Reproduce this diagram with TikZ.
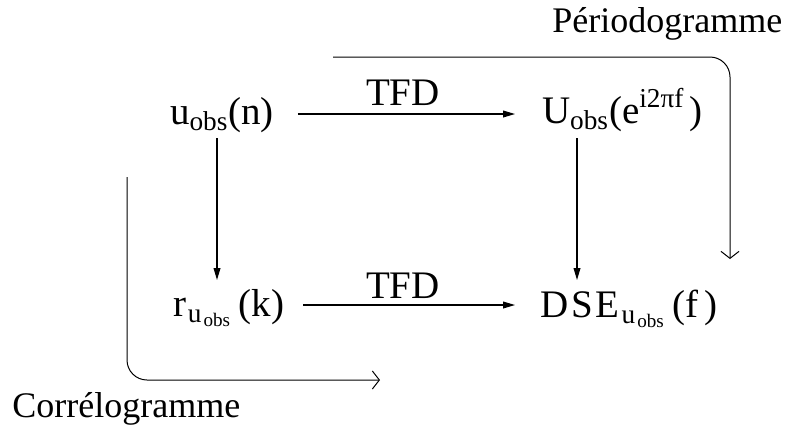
\documentclass[tikz,border=0pt]{standalone}
\usepackage{fontspec}
\setmainfont{Liberation Serif}
\usetikzlibrary{arrows.meta}
\begin{document}
\begin{tikzpicture}[x=0.5pt,y=-0.5pt,
  lbl/.style={font=\fontsize{18}{21}\selectfont, inner sep=0pt, anchor=base west},
  term/.style={font=\fontsize{19.5}{22}\selectfont, inner sep=0pt, outer sep=0pt, anchor=base west},
  arr/.style={line width=0.6pt, -{Triangle[length=6pt,width=3.4pt]}},
  loop/.style={line width=0.5pt, rounded corners=10pt, -{Straight Barb[length=3.5pt,width=9pt]}}]
\useasboundingbox (0,0) rectangle (787,435);
% terms of the diagram
\node[term] (uo) at (170,124) {u\textsubscript{obs}(n)};
\node[term] (Uo) at (542,123) {U\textsubscript{obs}(e\textsuperscript{i2πf\,})};
\node[term] (ru) at (173,316) {r\kern1pt\textsubscript{u\kern1pt\textsubscript{obs}}\,(k)};
\node[term] (dse) at (540,317) {D\kern1.5pt S\kern1.5pt E\kern1pt\textsubscript{u\kern1pt\textsubscript{obs}}\,(f\,)};
% horizontal transforms
\draw[arr] ([shift={(24,-10)}]uo.base east) -- ([shift={(-27,-9)}]Uo.base west);
\node[term] (t1) at (366,105) {TFD};
\draw[arr] ([shift={(19,-11)}]ru.base east) -- ([shift={(-25,-12)}]dse.base west);
\node[term] (t2) at (366,298) {TFD};
% vertical arrows
\draw[arr] ([shift={(47,14)}]uo.base west) -- ([shift={(44,-36)}]ru.base west);
\draw[arr] ([shift={(35,15)}]Uo.base west) -- ([shift={(37,-37)}]dse.base west);
% periodogram route
\coordinate (p1) at (333,57);
\coordinate (p2) at (730,259);
\draw[loop] (p1) -| (p2);
\node[lbl] (per) at (552,32) {Périodogramme};
% correlogram route
\coordinate (q1) at (127,177);
\coordinate (q2) at (380,380);
\draw[loop] (q1) |- (q2);
\node[lbl] (cor) at (12,417) {Corrélogramme};
\end{tikzpicture}
\end{document}
